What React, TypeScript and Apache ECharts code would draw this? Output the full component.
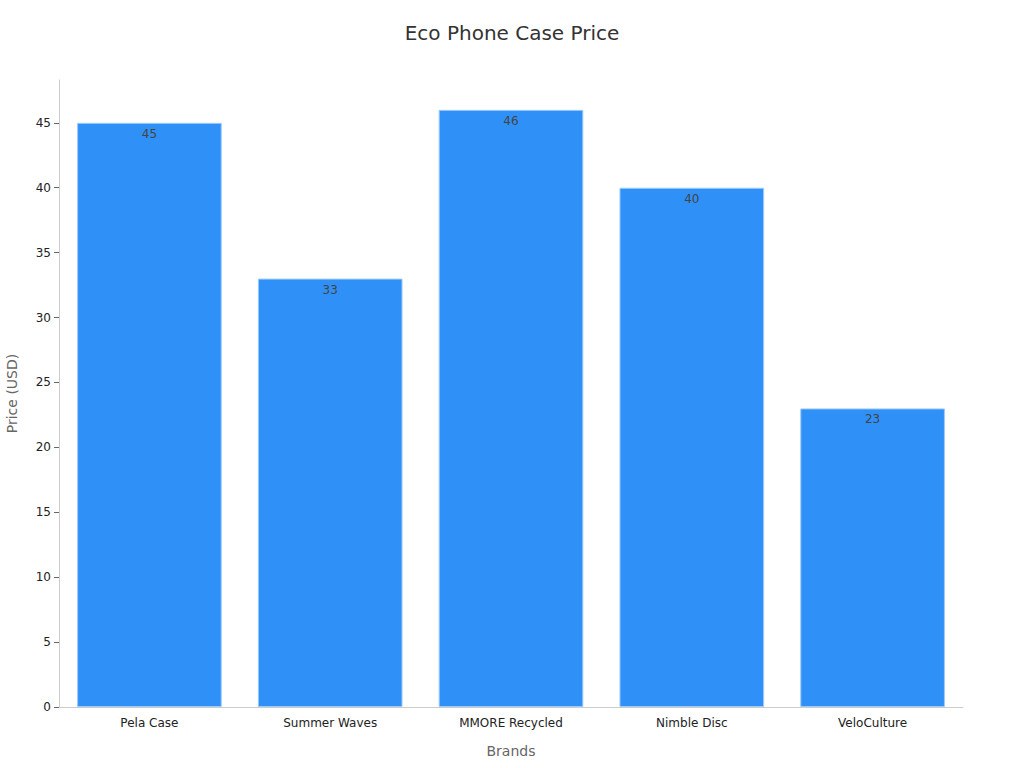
import { useEffect, useRef } from 'react';
import * as echarts from 'echarts';

const brands = ['Pela Case', 'Summer Waves', 'MMORE Recycled', 'Nimble Disc', 'VeloCulture'];
const prices = [45, 33, 46, 40, 23];

export default function App() {
  const chartRef = useRef<HTMLDivElement>(null);

  useEffect(() => {
    if (!chartRef.current) return;
    const chart = echarts.init(chartRef.current, null, { renderer: 'svg' });

    const option: any = {
      animation: false,
      textStyle: { fontFamily: 'DejaVu Sans' },
      title: {
        text: 'Eco Phone Case Price',
        left: 'center',
        top: 18,
        textStyle: { fontSize: 20, fontWeight: 'normal', color: '#333' },
      },
      grid: { left: 59, right: 61, top: 80, bottom: 61, outerBoundsMode: 'none' },
      xAxis: {
        type: 'category',
        data: brands,
        name: 'Brands',
        nameLocation: 'middle',
        nameGap: 37,
        nameTextStyle: { fontSize: 14, color: '#666' },
        axisLine: { lineStyle: { color: '#ccc' } },
        axisTick: { alignWithLabel: true, lineStyle: { color: '#666' } },
        axisLabel: { color: '#222', fontSize: 12, margin: 10 },
      },
      yAxis: {
        type: 'value',
        min: 0,
        max: 48.3,
        interval: 5,
        name: 'Price (USD)',
        nameLocation: 'middle',
        nameGap: 40,
        nameTextStyle: { fontSize: 14, color: '#666' },
        axisLine: { show: true, lineStyle: { color: '#ccc' } },
        axisTick: { show: true, lineStyle: { color: '#666' } },
        axisLabel: { color: '#222', fontSize: 12, showMaxLabel: false },
        splitLine: { show: false },
      },
      series: [
        {
          type: 'bar',
          data: prices,
          barCategoryGap: '20%',
          itemStyle: {
            color: '#2f91f7',
            borderColor: '#9ccafa',
            borderWidth: 1,
          },
          label: {
            show: true,
            position: 'insideTop',
            color: '#444',
            fontSize: 12,
          },
        },
      ],
    };

    chart.setOption(option);
    return () => {
      chart.dispose();
    };
  }, []);

  return (
    <div
      ref={chartRef}
      style={{ position: 'absolute', left: 0, top: 0, width: 1024, height: 768 }}
    />
  );
}
